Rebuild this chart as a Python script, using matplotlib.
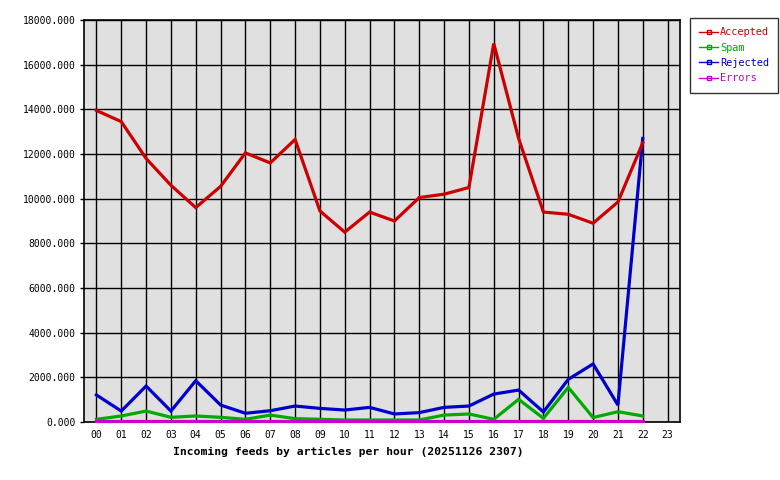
import matplotlib
matplotlib.use("Agg")
import matplotlib.pyplot as plt
from matplotlib.lines import Line2D

hours = ["00","01","02","03","04","05","06","07","08","09","10","11",
         "12","13","14","15","16","17","18","19","20","21","22","23"]
accepted = [13950, 13450, 11800, 10600, 9600, 10550, 12050, 11600, 12650, 9450, 8500, 9400,
            9000, 10050, 10200, 10500, 16950, 12700, 9400, 9300, 8900, 9850, 12500]
spam = [120, 270, 490, 210, 270, 210, 120, 310, 150, 120, 90, 90,
        90, 90, 310, 360, 120, 1015, 165, 1550, 200, 460, 270]
rejected = [1210, 490, 1610, 490, 1850, 760, 390, 505, 715, 610, 535, 655,
            360, 420, 655, 715, 1250, 1430, 450, 1910, 2600, 760, 12700]
errors = [40] * 23

series = [("Accepted", accepted, "#cc0000"),
          ("Spam", spam, "#00aa00"),
          ("Rejected", rejected, "#0000cc"),
          ("Errors", errors, "#cc00cc")]

mono = ["DejaVu Sans Mono"]
fig = plt.figure(figsize=(7.8, 4.8), dpi=100)
ax = fig.add_axes([84/780, 1-422/480, (680-84)/780, (422-20)/480])
ax.set_facecolor("#e0e0e0")

x = list(range(len(accepted)))
for z, (name, vals, col) in enumerate([series[1], series[2], series[0], series[3]]):
    ax.plot(x, vals, color=col, lw=2.3, solid_joinstyle="miter", zorder=3 + z * 0.1,
            clip_on=False)

ax.set_xlim(-0.5, 23.5)
ax.set_ylim(0, 18000)
ax.set_xticks(range(24))
ax.set_xticklabels(hours, family=mono, fontsize=7)
ax.set_yticks(range(0, 18001, 2000))
ax.set_yticklabels([f"{v}.000" for v in range(0, 18001, 2000)], family=mono, fontsize=7)
ax.grid(True, color="black", lw=1.0)
ax.set_axisbelow(True)
ax.tick_params(axis="both", length=3, width=1, color="black", pad=3)
ax.tick_params(axis="x", length=0, pad=6)
for s in ax.spines.values():
    s.set_linewidth(1.2)
    s.set_zorder(2)

fig.text(348/780, 1-452/480, "Incoming feeds by articles per hour (20251126 2307)",
         family=mono, fontsize=8.2, fontweight="bold", ha="center", va="center")

handles = [Line2D([0], [0], color=c, lw=1, marker="s", markersize=2.5,
                  markerfacecolor="none", markeredgecolor=c) for _, _, c in series]
leg = fig.legend(handles, [n for n, _, _ in series], loc="upper left",
                 bbox_to_anchor=(690/780, 1-18/480), frameon=True, fancybox=False,
                 prop={"family": mono, "size": 7.4}, handlelength=1.8, handletextpad=0.2,
                 labelspacing=0.52, borderpad=0.9, borderaxespad=0, numpoints=1)
leg.get_frame().set_edgecolor("black")
leg.get_frame().set_linewidth(1.0)
for t, (_, _, c) in zip(leg.get_texts(), series):
    t.set_color(c)

fig.savefig("out.png", dpi=100, facecolor="white")
